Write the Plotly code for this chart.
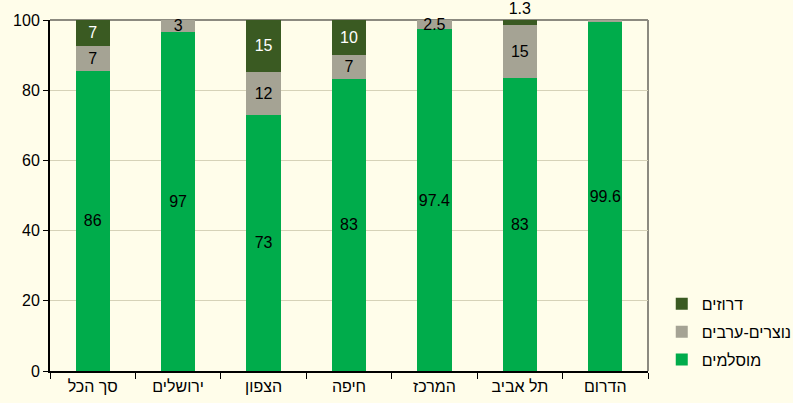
import plotly.graph_objects as go

categories = ["סך הכל", "ירושלים", "הצפון", "חיפה", "המרכז", "תל אביב", "הדרום"]

muslims = [85.5, 96.6, 73.0, 83.3, 97.4, 83.5, 99.6]
christians = [7.1, 3.4, 12.3, 6.7, 2.5, 15.2, 0.4]
druze = [7.4, 0, 14.7, 10.0, 0, 1.3, 0]

muslims_labels = ["86", "97", "73", "83", "97.4", "83", "99.6"]
christians_labels = ["7", "3", "12", "7", "2.5", "15", ""]
druze_labels = ["7", "", "15", "10", "", "1.3", ""]

series_names = ["מוסלמים", "נוצרים-ערבים", "דרוזים"]

BG = "#FFFDEA"
FONT = "Liberation Sans, Arial, sans-serif"
FS = 16

common = dict(textangle=0, insidetextanchor="middle", constraintext="none",
              width=0.4, cliponaxis=False)

fig = go.Figure()
fig.add_trace(go.Bar(
    x=categories, y=muslims, name=series_names[0], text=muslims_labels,
    marker=dict(color="#00AC4B", line=dict(width=0)), legendgroup="m", legendrank=3,
    textposition="inside",
    textfont=dict(color="black", size=FS, family=FONT), **common,
))
fig.add_trace(go.Bar(
    x=categories, y=christians, name=series_names[1], text=christians_labels,
    marker=dict(color="#A5A394", line=dict(width=0)), legendgroup="c", legendrank=2,
    textposition="inside",
    textfont=dict(color="black", size=FS, family=FONT), **common,
))
fig.add_trace(go.Bar(
    x=categories, y=druze, name=series_names[2], text=druze_labels,
    marker=dict(color="#3A5A22", line=dict(width=0)), legendgroup="d", legendrank=1,
    textposition=["inside", "inside", "inside", "inside", "inside", "outside", "inside"],
    insidetextfont=dict(color="white", size=FS, family=FONT),
    outsidetextfont=dict(color="black", size=FS, family=FONT),
    **common,
))

fig.update_layout(
    barmode="stack",
    width=793, height=403,
    margin=dict(l=50, r=145, t=20, b=32, autoexpand=False),
    paper_bgcolor=BG, plot_bgcolor=BG,
    font=dict(family=FONT, size=FS, color="black"),
    showlegend=True,
    legend=dict(
        traceorder="grouped", x=1.023, y=-0.017, xanchor="left", yanchor="bottom",
        font=dict(size=FS, family=FONT), bgcolor="rgba(0,0,0,0)",
        itemwidth=30, tracegroupgap=4,
    ),
    xaxis=dict(
        showline=True, linecolor="black", linewidth=2,
        ticks="outside", tickson="boundaries", ticklen=6, tickcolor="black",
        tickfont=dict(size=FS, family=FONT), showgrid=False, automargin=False,
    ),
    yaxis=dict(
        range=[0, 100], tickvals=[0, 20, 40, 60, 80, 100],
        showline=True, linecolor="black", linewidth=2,
        ticks="outside", ticklen=5, tickcolor="black",
        showgrid=True, gridcolor="#D6D2B8", gridwidth=1,
        tickfont=dict(size=FS, family=FONT), zeroline=False, automargin=False,
    ),
    shapes=[
        dict(type="line", xref="paper", yref="paper", x0=0, x1=1, y0=1, y1=1,
             line=dict(color="#8C8A80", width=2), layer="below"),
        dict(type="line", xref="paper", yref="paper", x0=1, x1=1, y0=0, y1=1,
             line=dict(color="#8C8A80", width=2), layer="below"),
    ],
)

fig.write_html(
    "out.html",
    config={"displayModeBar": False},
    post_script="document.body.style.margin='0';document.body.style.background='#FFFDEA';",
)
